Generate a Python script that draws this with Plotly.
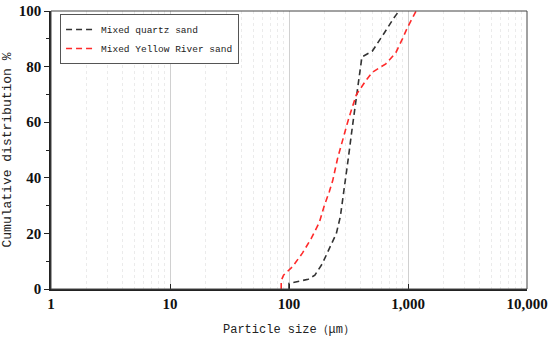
import plotly.graph_objects as go

# Data
quartz_size = [100, 100, 145, 165, 190, 220, 250, 270, 290, 315, 340, 370, 390, 410, 500, 550, 630, 760, 840]
quartz_cum = [0, 2, 3.5, 5, 9, 15, 20, 26, 35, 47, 58, 69, 76, 83.5, 85.5, 88, 92, 97.5, 100]

yr_size = [86, 86, 90, 107, 130, 153, 180, 198, 218, 233, 256, 282, 311, 338, 369, 443, 503, 651, 790, 898, 988, 1170]
yr_cum = [0, 3, 5, 8, 13, 18, 24, 30, 35, 39, 47, 54, 60, 65, 70, 75, 78, 81, 85, 90, 94, 100]

x_tickvals = [1, 10, 100, 1000, 10000]
x_ticktext = ["1", "10", "100", "1,000", "10,000"]
y_tickvals = [0, 20, 40, 60, 80, 100]

minor_x = [m * 10 ** d for d in range(4) for m in range(2, 10)]

mono = "Liberation Mono"
tickfont = dict(family="Liberation Serif", size=15, color="#111", weight="bold")

fig = go.Figure()
fig.add_trace(go.Scatter(x=quartz_size, y=quartz_cum, mode="lines", name="Mixed quartz sand",
                         line=dict(color="#333333", width=1.6, dash="6px,4px")))
fig.add_trace(go.Scatter(x=yr_size, y=yr_cum, mode="lines", name="Mixed Yellow River sand",
                         line=dict(color="#ff2a2a", width=1.6, dash="6px,4px")))

# legend shadow
fig.add_shape(type="rect", xref="paper", yref="paper", x0=0.027, x1=0.39, y0=0.81, y1=0.975,
              fillcolor="black", line=dict(width=0), layer="above")

fig.update_layout(
    width=550, height=339,
    margin=dict(l=51, r=23, t=11, b=50),
    paper_bgcolor="white", plot_bgcolor="white",
    showlegend=True,
    legend=dict(x=0.019, y=0.989, xanchor="left", yanchor="top",
                bgcolor="white", bordercolor="#555", borderwidth=1,
                font=dict(family=mono, size=9.5, color="#222"),
                tracegroupgap=0, itemwidth=30),
    xaxis=dict(type="log", range=[0, 4], tickvals=x_tickvals, ticktext=x_ticktext,
               tickfont=tickfont, ticks="inside", ticklen=5, tickcolor="#222",
               ticklabeloverflow="allow",
               showgrid=True, gridcolor="#d0d0d0", gridwidth=1, automargin=False,
               showline=True, linecolor="#222", linewidth=1.5, mirror=False,
               minor=dict(tickvals=minor_x, showgrid=True, gridcolor="#ebebeb",
                          griddash="dot", ticks=""),
               title=dict(text="Particle size（μm）", font=dict(family=mono, size=12, color="#222"),
                          standoff=14),
               zeroline=False),
    yaxis=dict(range=[0, 100], tickvals=y_tickvals, tickfont=tickfont,
               ticks="outside", ticklen=5, tickcolor="#222", automargin=False,
               ticklabeloverflow="allow",
               showgrid=False, showline=True, linecolor="#222", linewidth=1.5,
               minor=dict(tickvals=[10, 30, 50, 70, 90], ticks="outside", ticklen=3, tickcolor="#222"),
               title=dict(text="Cumulative distribution %", font=dict(family=mono, size=13, color="#222"),
                          standoff=5),
               zeroline=False),
)
# top/right frame
fig.add_shape(type="rect", xref="paper", yref="paper", x0=0, x1=1, y0=0, y1=1,
              line=dict(color="#444", width=1), layer="above")

fig.write_html("out.html", config={"displayModeBar": False},
               post_script="document.body.style.margin='0';")
